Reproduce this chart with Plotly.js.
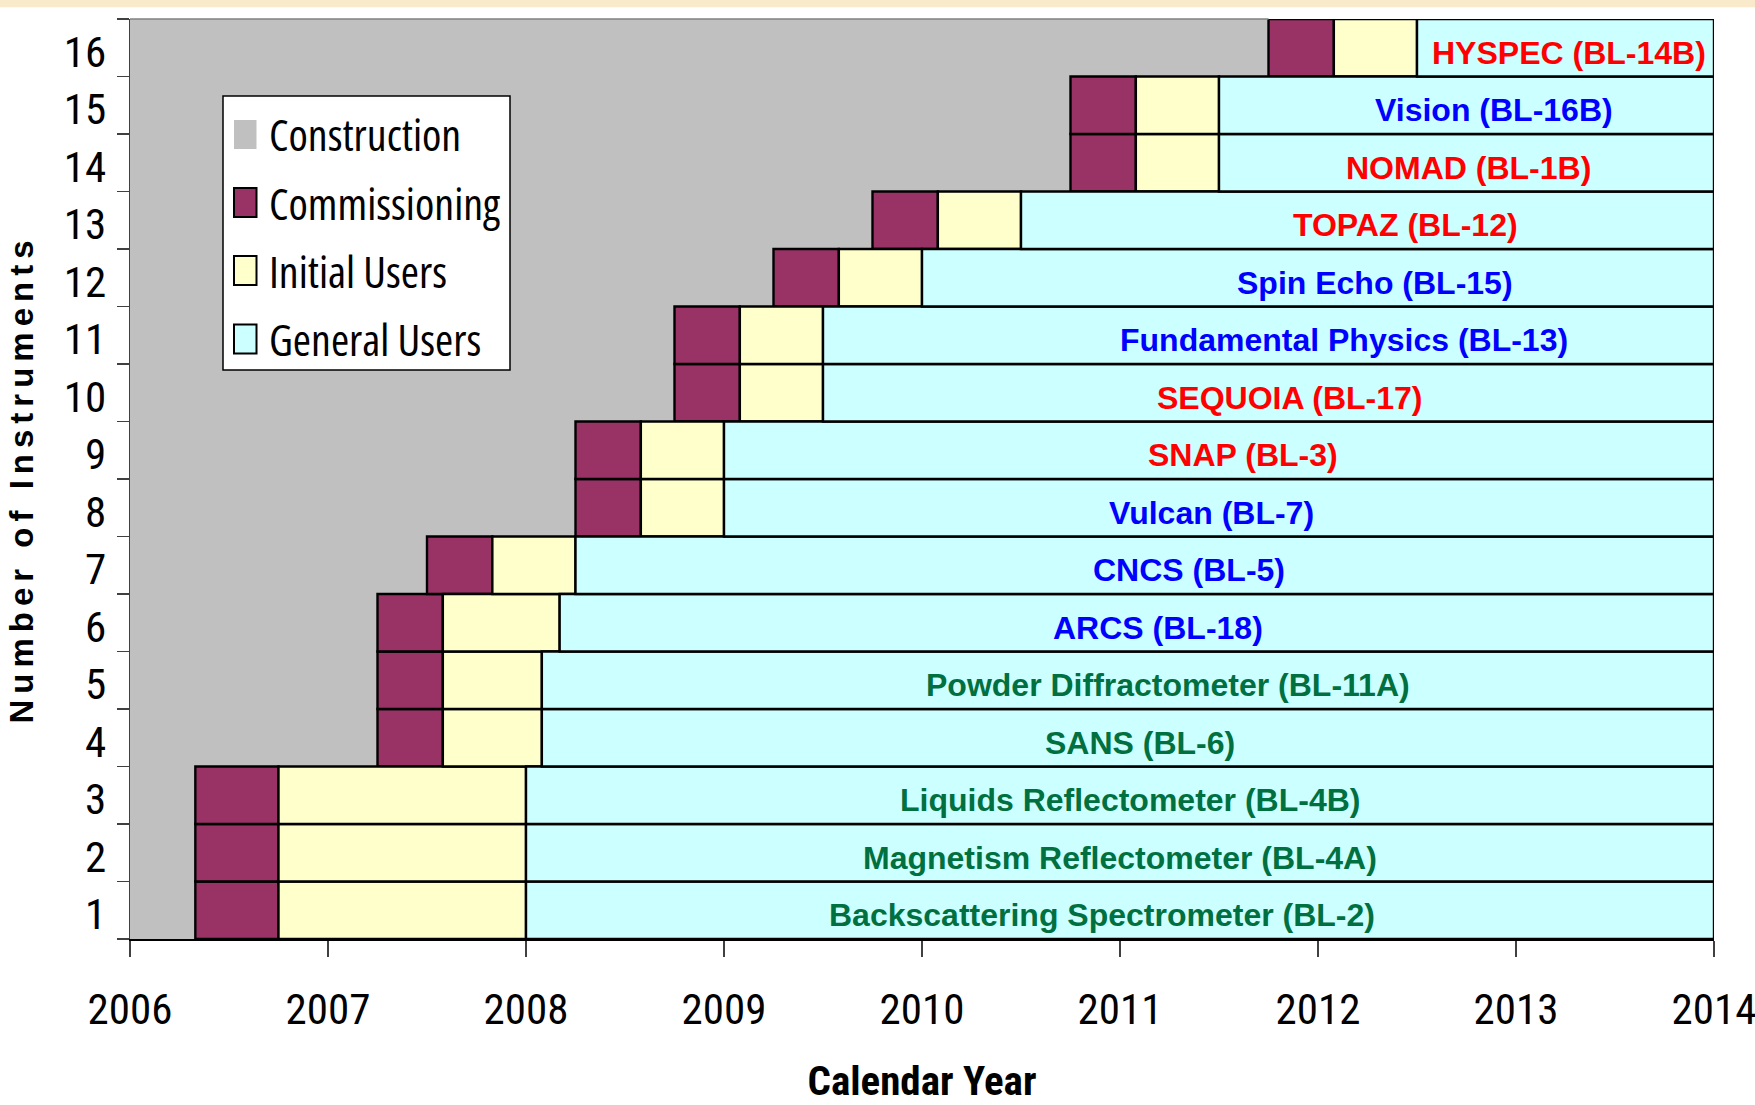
<!DOCTYPE html>
<html>
<head>
<meta charset="utf-8">
<script src="https://cdn.plot.ly/plotly-3.0.1.min.js"></script>
<style>
html, body { margin: 0; padding: 0; background: #ffffff; }
#chart { width: 1755px; height: 1105px; }
.ytitle { letter-spacing: 6px; }
</style>
</head>
<body>
<div id="chart"></div>
<script>
// ---------------- data ----------------
const rows = ['1','2','3','4','5','6','7','8','9','10','11','12','13','14','15','16'];
const instrumentNames = [
  'Backscattering Spectrometer (BL-2)',
  'Magnetism Reflectometer (BL-4A)',
  'Liquids Reflectometer (BL-4B)',
  'SANS (BL-6)',
  'Powder Diffractometer (BL-11A)',
  'ARCS (BL-18)',
  'CNCS (BL-5)',
  'Vulcan (BL-7)',
  'SNAP (BL-3)',
  'SEQUOIA (BL-17)',
  'Fundamental Physics (BL-13)',
  'Spin Echo (BL-15)',
  'TOPAZ (BL-12)',
  'NOMAD (BL-1B)',
  'Vision (BL-16B)',
  'HYSPEC (BL-14B)'
];
const labelGroup = ['green','green','green','green','green','blue','blue','blue','red','red','blue','blue','red','red','blue','red'];
const constructionStart = [2006,2006,2006,2006,2006,2006,2006,2006,2006,2006,2006,2006,2006,2006,2006,2006];
const commissioningStart = [2006.33,2006.33,2006.33,2007.25,2007.25,2007.25,2007.5,2008.25,2008.25,2008.75,2008.75,2009.25,2009.75,2010.75,2010.75,2011.75];
const initialUsersStart = [2006.75,2006.75,2006.75,2007.58,2007.58,2007.58,2007.83,2008.58,2008.58,2009.08,2009.08,2009.58,2010.08,2011.08,2011.08,2012.08];
const generalUsersStart = [2008.0,2008.0,2008.0,2008.08,2008.08,2008.17,2008.25,2009.0,2009.0,2009.5,2009.5,2010.0,2010.5,2011.5,2011.5,2012.5];
const generalUsersEnd = [2014,2014,2014,2014,2014,2014,2014,2014,2014,2014,2014,2014,2014,2014,2014,2014];
const labelYear = [2010.91,2011.0,2011.05,2011.10,2011.24,2011.19,2011.35,2011.46,2011.62,2011.86,2012.13,2012.29,2012.44,2012.76,2012.89,2013.27];
const yearTicks = [2006,2007,2008,2009,2010,2011,2012,2013,2014];
const phaseNames = ['Construction','Commissioning','Initial Users','General Users'];

// ---------------- styles ----------------
const NARROW = "'Roboto Condensed', 'Liberation Sans', Arial, sans-serif";
const LEGENDFONT = "'Open Sans', 'Liberation Sans', Arial, sans-serif";
const SANS = "'Liberation Sans', Arial, sans-serif";
const phaseColors = ['#C0C0C0', '#993366', '#FFFFCC', '#CCFFFF'];
const phaseLine = [0, 2.4, 2.4, 2.4];
const groupColors = { green: '#007040', blue: '#0000FF', red: '#FF0000' };

// plot area geometry (pixels)
const M = { l: 130, r: 41, t: 19, b: 166 };
const W = 1755, H = 1105;
const PW = W - M.l - M.r, PH = H - M.t - M.b;
const px = v => (v - M.l) / PW;
const py = v => (H - M.b - v) / PH;

// ---------------- traces ----------------
const segStarts = [constructionStart, commissioningStart, initialUsersStart, generalUsersStart];
const segEnds = [commissioningStart, initialUsersStart, generalUsersStart, generalUsersEnd];

const traces = phaseNames.map((name, k) => ({
  type: 'bar',
  orientation: 'h',
  name: name,
  y: rows,
  base: segStarts[k],
  x: segEnds[k].map((e, i) => e - segStarts[k][i]),
  marker: { color: phaseColors[k], line: { color: '#000000', width: phaseLine[k] } },
  cliponaxis: false,
  hoverinfo: 'skip',
  showlegend: false
}));

// ---------------- annotations ----------------
const annotations = instrumentNames.map((t, i) => ({
  text: t,
  x: labelYear[i],
  y: i,              // category index of rows[i]
  xref: 'x', yref: 'y',
  showarrow: false,
  xanchor: 'center', yanchor: 'middle',
  yshift: -5,
  font: { family: SANS, size: 32, weight: 'bold', color: groupColors[labelGroup[i]] }
}));

// custom legend
const legendCenters = [134.5, 202.5, 270.5, 339];
const shapes = [];
// top decorative strip
shapes.push({ type: 'rect', xref: 'paper', yref: 'paper', x0: px(0), x1: px(W), y0: py(0), y1: py(7.3),
  fillcolor: '#F9EACB', line: { width: 0 }, layer: 'above' });
// thin top border of the plot over construction area
shapes.push({ type: 'line', xref: 'x', yref: 'paper', x0: constructionStart[15], x1: commissioningStart[15], y0: 1, y1: 1,
  line: { color: '#808080', width: 1.5 }, layer: 'above' });
// legend box
shapes.push({ type: 'rect', xref: 'paper', yref: 'paper', x0: px(223), x1: px(510), y0: py(370), y1: py(96),
  fillcolor: '#FFFFFF', line: { color: '#000000', width: 1.5 }, layer: 'above' });
phaseNames.forEach((name, k) => {
  const c = legendCenters[k];
  shapes.push({ type: 'rect', xref: 'paper', yref: 'paper', x0: px(234), x1: px(256.5), y0: py(c + 14.5), y1: py(c - 14.5),
    fillcolor: phaseColors[k], line: { color: '#000000', width: k === 0 ? 0 : 2 }, layer: 'above' });
  annotations.push({ text: '<span style="font-stretch:75%">' + name + '</span>', xref: 'paper', yref: 'paper',
    x: px(267), y: py(c), xanchor: 'left', yanchor: 'middle',
    showarrow: false, font: { family: LEGENDFONT, size: 44, color: '#000000' } });
});

const layout = {
  width: W, height: H,
  margin: { l: M.l, r: M.r, t: M.t, b: M.b, pad: 0 },
  paper_bgcolor: '#FFFFFF',
  plot_bgcolor: '#C0C0C0',
  barmode: 'overlay',
  bargap: 0,
  showlegend: false,
  xaxis: {
    range: [yearTicks[0], yearTicks[yearTicks.length - 1]],
    tickmode: 'array', tickvals: yearTicks, ticktext: yearTicks.map(String),
    ticks: 'outside', ticklen: 16, tickwidth: 1.2, tickcolor: '#404040',
    ticklabelstandoff: 16,
    ticklabeloverflow: 'allow',
    showline: true, linecolor: '#000000', linewidth: 1.5,
    showgrid: false, zeroline: false, automargin: false, fixedrange: true,
    tickfont: { family: NARROW, size: 43, color: '#000000' },
    title: { text: 'Calendar Year', standoff: 46, font: { family: NARROW, size: 41, weight: 'bold', color: '#000000' } }
  },
  yaxis: {
    type: 'category', categoryorder: 'array', categoryarray: rows,
    range: [-0.5, rows.length - 0.5],
    tickson: 'boundaries',
    ticks: 'outside', ticklen: 12, tickwidth: 1.2, tickcolor: '#404040',
    ticklabelstandoff: 14,
    ticklabelshift: 4,
    showline: true, linecolor: '#404040', linewidth: 1.2,
    showgrid: false, zeroline: false, automargin: false, fixedrange: true,
    tickfont: { family: NARROW, size: 43, color: '#000000' },
    title: { text: 'Number of Instruments', standoff: 20, font: { family: SANS, size: 33, weight: 'bold', color: '#000000' } }
  },
  annotations: annotations,
  shapes: shapes
};

Plotly.newPlot('chart', traces, layout, { staticPlot: true, displayModeBar: false });
</script>
</body>
</html>
